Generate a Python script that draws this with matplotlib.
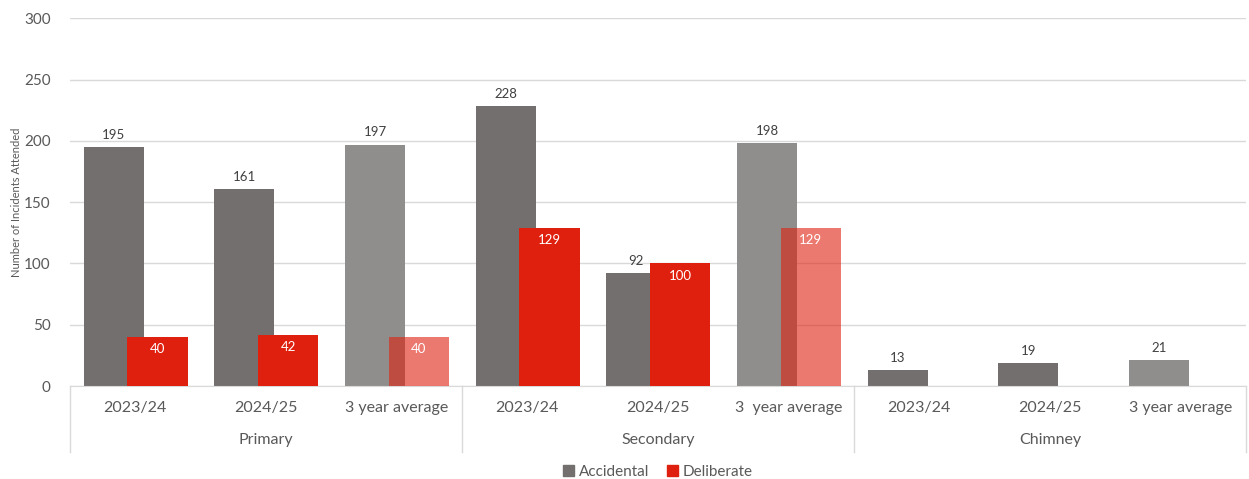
import numpy as np
import matplotlib.pyplot as plt
import matplotlib.transforms as mtransforms
from matplotlib.patches import Patch

plt.rcParams['font.family'] = ['Lato', 'DejaVu Sans']

groups = ['Primary', 'Secondary', 'Chimney']
periods = ['2023/24', '2024/25', '3 year average']
period_labels = ['2023/24', '2024/25', '3 year average',
                 '2023/24', '2024/25', '3  year average',
                 '2023/24', '2024/25', '3 year average']
accidental = [195, 161, 197, 228, 92, 198, 13, 19, 21]
deliberate = [40, 42, 40, 129, 100, 129, np.nan, np.nan, np.nan]

grey = '#736f6e'
grey_avg = '#908e8d'
red = '#e0200f'
txt = '#595959'

fig = plt.figure(figsize=(12.49, 4.79), dpi=100)
ax = fig.add_axes([0.056, 0.194, 0.9415, 0.768])

x = np.arange(len(accidental))
w = 0.46
is_avg = [i % 3 == 2 for i in x]

for i in x:
    ca = grey_avg if is_avg[i] else grey
    ax.bar(x[i] - 0.165, accidental[i], w, color=ca, zorder=2)
    ax.text(x[i] - 0.165, accidental[i] + 5, str(accidental[i]), ha='center',
            va='bottom', fontsize=9.5, color='#404040')
    if not np.isnan(deliberate[i]):
        ax.bar(x[i] + 0.17, deliberate[i], w, color=red,
               alpha=0.6 if is_avg[i] else 1.0, zorder=3)
        ax.text(x[i] + 0.17, deliberate[i] - 10, str(int(deliberate[i])),
                ha='center', va='center', fontsize=9.5, color='white', zorder=4)

ax.set_xlim(-0.5, len(x) - 0.5)
ax.set_ylim(0, 300)
ax.set_yticks(range(0, 301, 50))
ax.tick_params(axis='y', length=0, labelsize=11, labelcolor=txt, pad=14)
ax.set_xticks([])
ax.yaxis.grid(True, color='#d9d9d9', linewidth=1, zorder=0)
ax.set_axisbelow(True)
for s in ['top', 'right', 'left']:
    ax.spines[s].set_visible(False)
ax.spines['bottom'].set_color('#d9d9d9')
ax.set_ylabel('Number of Incidents Attended', fontsize=8, color=txt)
ax.yaxis.set_label_coords(-0.041, 0.5)

trans = mtransforms.blended_transform_factory(ax.transData, ax.transAxes)
for i, lab in enumerate(period_labels):
    ax.text(i, -0.06, lab, transform=trans, ha='center', va='center',
            fontsize=11.5, color=txt)
for g, name in enumerate(groups):
    ax.text(3 * g + 1, -0.147, name, transform=trans, ha='center', va='center',
            fontsize=11.5, color=txt)
for b in [-0.5, 2.5, 5.5, 8.5]:
    ax.plot([b, b], [0, -0.18], transform=trans, color='#d9d9d9',
            linewidth=1, clip_on=False)

handles = [Patch(color=grey, label='Accidental'), Patch(color=red, label='Deliberate')]
ax.legend(handles=handles, loc='center', bbox_to_anchor=(0.5, -0.234), ncol=2,
          frameon=False, fontsize=11, handlelength=0.7, handleheight=0.7,
          handletextpad=0.3, columnspacing=1.2, labelcolor=txt)

fig.savefig('out.png', dpi=100)
